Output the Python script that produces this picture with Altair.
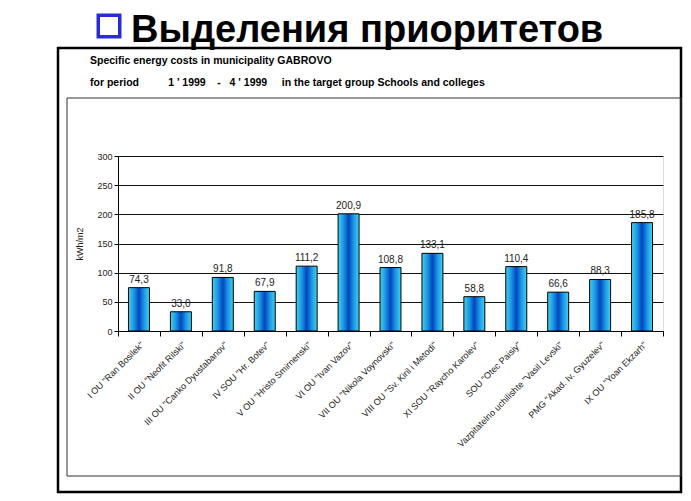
import altair as alt
import pandas as pd

schools = [
    'I OU "Ran Bosilek"',
    'II OU "Neofit Rilski"',
    'III OU "Canko Dyustabanov"',
    'IV SOU "Hr. Botev"',
    'V OU "Hristo Smirnenski"',
    'VI OU "Ivan Vazov"',
    'VII OU "Nikola Voynovski"',
    'VIII OU "Sv. Kiril i Metodi"',
    'XI SOU "Raycho Karolev"',
    'SOU "Otec Paisiy"',
    'Vazpitatelno uchilishte "Vasil Levski"',
    'PMG "Akad. Iv. Gyuzelev"',
    'IX OU "Yoan Ekzarh"',
]
values = [74.3, 33.0, 91.8, 67.9, 111.2, 200.9, 108.8, 133.1, 58.8, 110.4, 66.6, 88.3, 185.8]
labels = [f"{v:.1f}".replace(".", ",") for v in values]
y_ticks = [0, 50, 100, 150, 200, 250, 300]

NB = "\u00a0"
title_text = "Выделения приоритетов"
line1 = "Specific energy costs in municipality GABROVO"
line2 = ("for period" + NB * 10 + "1 ' 1999" + NB * 4 + "-" + NB * 3 + "4 ' 1999"
         + NB * 5 + "in the target group Schools and colleges")

df = pd.DataFrame({"school": schools, "value": values, "label": labels})
one = pd.DataFrame({"k": [0]})

W, H = 545, 175

grad = alt.LinearGradient(
    gradient="linear", x1=0, x2=1, y1=0, y2=0,
    stops=[
        alt.GradientStop(color="#40d4f0", offset=0),
        alt.GradientStop(color="#1a90e2", offset=0.28),
        alt.GradientStop(color="#0046be", offset=0.5),
        alt.GradientStop(color="#1a90e2", offset=0.72),
        alt.GradientStop(color="#40d4f0", offset=1),
    ],
)

y_enc = alt.Y(
    "value:Q",
    scale=alt.Scale(domain=[0, 300]),
    axis=alt.Axis(
        values=y_ticks, title="kWh/m2", titleFontSize=9,
        titleFontWeight="normal", titleFont="Liberation Sans", titleColor="#222222",
        labelFontSize=9, labelFont="Liberation Sans", labelColor="#222222",
        gridColor="#111111", gridWidth=1, gridOpacity=1,
        tickColor="black", tickSize=4, domainColor="black", titlePadding=12,
    ),
)

base = alt.Chart(df).encode(
    x=alt.X(
        "school:N", sort=schools,
        scale=alt.Scale(paddingInner=0, paddingOuter=0),
        axis=alt.Axis(
            title=None, labelAngle=-45, labelFontSize=9, labelLimit=240,
            labelFont="Liberation Sans", labelColor="#222222",
            tickBand="extent", tickColor="black", domainColor="black",
            labelPadding=4,
        ),
    ),
    y=y_enc,
)

bars = base.mark_bar(
    color=grad, stroke="black", strokeWidth=1,
    width=alt.RelativeBandSize(0.5),
)

text = base.mark_text(
    dy=-8, fontSize=10, font="Liberation Sans", color="#222222"
).encode(text="label:N")

outer_frame = alt.Chart(one).mark_rect(
    filled=False, stroke="black", strokeWidth=2.5
).encode(x=alt.value(-60), x2=alt.value(563), y=alt.value(-108), y2=alt.value(336))

inner_frame = alt.Chart(one).mark_rect(
    filled=False, stroke="#333333", strokeWidth=1
).encode(x=alt.value(-51), x2=alt.value(563), y=alt.value(-58), y2=alt.value(320))

heading = alt.Chart(one).mark_text(
    text=title_text, font="Liberation Sans", fontSize=38, fontWeight="bold",
    color="black", align="left", baseline="alphabetic",
).encode(x=alt.value(13), y=alt.value(-114))

bullet = alt.Chart(one).mark_point(
    shape="square", filled=False, size=460, strokeWidth=3.5, color="#2a2ad8", opacity=1
).encode(x=alt.value(-9), y=alt.value(-130))

sub1 = alt.Chart(one).mark_text(
    text=line1, font="Liberation Sans", fontSize=10.5, fontWeight="bold",
    color="black", align="left", baseline="alphabetic",
).encode(x=alt.value(-28), y=alt.value(-92))

sub2 = alt.Chart(one).mark_text(
    text=line2, font="Liberation Sans", fontSize=10.5, fontWeight="bold",
    color="black", align="left", baseline="alphabetic",
).encode(x=alt.value(-28), y=alt.value(-70))

chart = alt.layer(
    outer_frame, inner_frame, bars, text, heading, bullet, sub1, sub2
).properties(
    width=W, height=H,
    padding={"left": 48, "top": 0, "right": 0, "bottom": 0},
).configure_view(stroke=None).configure(background="white")

chart.save("out.html", embed_options={"renderer": "svg", "actions": False})
